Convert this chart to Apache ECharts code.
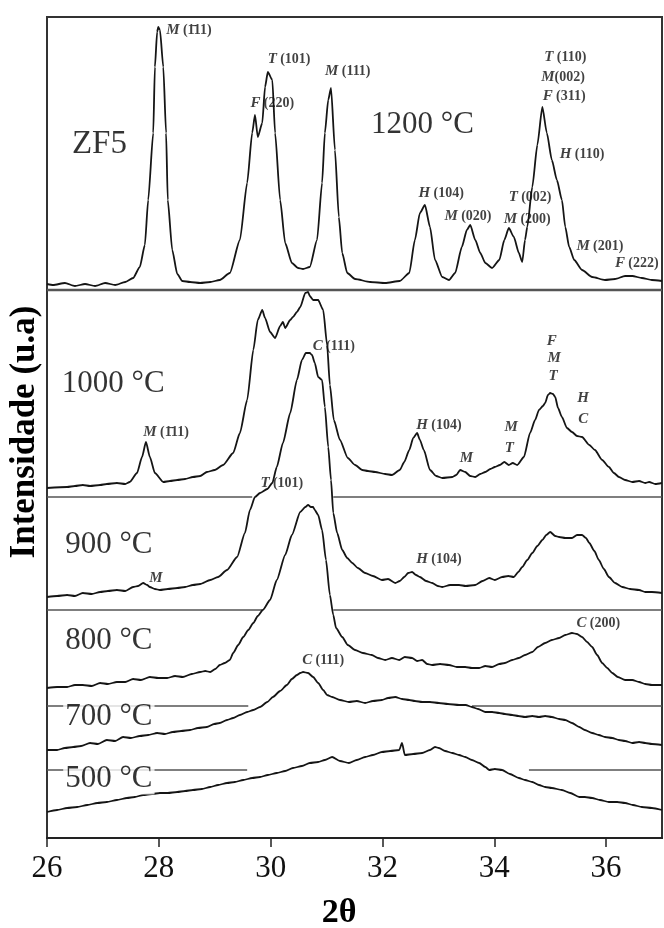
<!DOCTYPE html>
<html><head><meta charset="utf-8">
<script src="https://cdn.jsdelivr.net/npm/echarts@6/dist/echarts.min.js"></script>
<style>html,body{margin:0;padding:0;background:#fff}#c{width:664px;height:928px}</style>
</head><body><div id="c"></div>
<script>
// ---------- DATA (2θ in degrees, intensity in arbitrary units above each pattern's baseline) ----------
const xTicks = [26, 28, 30, 32, 34, 36];

const tt_1200 = [26.00,26.11,26.32,26.50,26.68,26.86,27.04,27.22,27.40,27.54,27.66,27.75,27.81,27.90,27.93,27.97,27.99,28.02,28.08,28.13,28.16,28.24,28.33,28.42,28.56,28.74,28.92,29.09,29.27,29.45,29.58,29.67,29.72,29.77,29.85,29.90,29.95,30.03,30.08,30.17,30.26,30.38,30.49,30.58,30.70,30.83,30.92,30.97,31.03,31.08,31.15,31.22,31.28,31.37,31.51,31.78,32.05,32.31,32.48,32.58,32.67,32.76,32.85,32.94,33.07,33.19,33.30,33.42,33.51,33.57,33.66,33.75,33.84,33.96,34.09,34.18,34.26,34.35,34.44,34.50,34.55,34.59,34.68,34.77,34.86,34.94,35.03,35.12,35.21,35.27,35.34,35.43,35.57,35.75,35.98,36.16,36.34,36.47,36.64,36.82,37.00];
const int_1200 = [1,0,2,-1,1,-1,2,0,3,7,18,40,85,152,218,253,258,255,218,152,85,35,11,4,3,2,3,5,12,45,102,152,170,148,162,198,213,205,152,85,42,22,17,16,18,45,102,152,185,197,135,68,32,12,6,3,2,4,12,45,72,80,58,25,8,5,12,38,55,60,45,32,22,17,25,45,57,48,32,23,45,58,98,140,178,152,125,105,85,58,38,25,15,8,5,6,9,9,7,5,4];

const tt_1000 = [26.00,26.36,26.50,26.64,26.77,26.95,27.07,27.25,27.40,27.48,27.61,27.70,27.77,27.84,27.93,28.08,28.20,28.33,28.47,28.61,28.74,28.86,29.00,29.15,29.33,29.45,29.58,29.69,29.77,29.85,29.90,29.99,30.08,30.17,30.22,30.26,30.35,30.40,30.47,30.53,30.62,30.67,30.70,30.76,30.85,30.94,31.01,31.06,31.13,31.24,31.38,31.51,31.64,31.74,31.87,32.05,32.17,32.31,32.39,32.48,32.55,32.62,32.67,32.74,32.85,32.96,33.07,33.25,33.32,33.39,33.48,33.57,33.66,33.75,33.84,33.93,34.01,34.10,34.18,34.26,34.33,34.41,34.53,34.64,34.73,34.80,34.87,34.91,34.96,35.00,35.05,35.09,35.14,35.21,35.30,35.39,35.48,35.57,35.70,35.80,35.93,36.05,36.14,36.23,36.34,36.47,36.59,36.70,36.77,36.88,37.00];
const int_1000 = [0,1,2,3,2,3,4,5,4,6,15,31,46,31,15,6,7,8,9,11,12,16,18,23,35,55,88,138,168,178,170,156,150,162,166,160,168,171,176,181,195,196,192,188,188,178,143,103,68,48,30,23,18,17,16,14,13,18,26,38,50,55,48,38,18,12,10,11,13,18,16,12,11,14,16,19,21,23,26,23,25,23,31,55,68,78,82,85,93,95,94,91,80,71,60,56,52,51,43,38,28,21,15,11,8,6,7,5,6,4,5];

const tt_900 = [26.00,26.18,26.36,26.50,26.64,26.80,26.95,27.09,27.25,27.40,27.54,27.63,27.72,27.79,27.84,27.93,28.02,28.16,28.33,28.47,28.61,28.74,28.92,29.06,29.22,29.40,29.54,29.63,29.72,29.81,29.94,30.03,30.11,30.22,30.35,30.47,30.56,30.63,30.70,30.74,30.79,30.85,30.92,30.97,31.03,31.08,31.12,31.19,31.28,31.37,31.46,31.56,31.69,31.83,31.99,32.10,32.23,32.31,32.39,32.46,32.53,32.60,32.67,32.78,32.89,32.99,33.07,33.21,33.37,33.49,33.66,33.79,33.91,34.01,34.14,34.25,34.35,34.43,34.50,34.59,34.68,34.77,34.86,34.93,35.00,35.09,35.16,35.27,35.39,35.48,35.57,35.64,35.70,35.79,35.87,35.96,36.05,36.16,36.29,36.43,36.59,36.70,36.82,37.00];
const int_900 = [0,1,2,1,4,3,5,6,7,6,10,11,14,12,10,8,7,8,9,10,12,13,17,20,27,40,64,87,100,104,108,114,130,154,184,217,237,244,244,242,234,220,217,190,150,117,84,64,47,39,34,29,24,21,17,18,14,16,20,24,25,22,20,16,14,11,10,12,12,11,12,16,19,17,20,21,20,25,30,37,44,51,57,62,65,61,60,59,59,62,62,59,54,46,37,28,20,14,10,8,7,5,5,4];

const tt_800 = [26.00,26.18,26.36,26.50,26.64,26.80,26.95,27.09,27.25,27.40,27.54,27.68,27.84,27.99,28.15,28.29,28.43,28.59,28.74,28.83,28.92,29.01,29.09,29.18,29.27,29.33,29.42,29.51,29.60,29.69,29.77,29.86,29.99,30.11,30.26,30.38,30.53,30.62,30.67,30.72,30.76,30.79,30.85,30.92,30.99,31.06,31.12,31.17,31.28,31.38,31.51,31.65,31.81,31.92,32.05,32.17,32.30,32.40,32.53,32.62,32.71,32.80,32.89,33.03,33.19,33.33,33.48,33.60,33.73,33.84,33.96,34.09,34.19,34.32,34.44,34.55,34.68,34.78,34.91,35.03,35.16,35.27,35.39,35.48,35.57,35.66,35.75,35.84,35.93,36.02,36.11,36.21,36.34,36.47,36.59,36.70,36.82,37.00];
const int_800 = [0,1,1,3,3,2,5,4,6,6,9,8,11,10,10,12,11,14,16,17,16,19,23,25,28,35,43,51,58,65,72,78,88,108,133,153,176,181,183,181,181,178,173,158,128,93,73,60,51,43,38,35,33,30,28,30,28,31,30,27,28,24,23,24,23,21,21,20,20,22,21,24,25,28,30,33,36,41,45,48,50,53,55,54,51,46,41,33,25,20,15,11,8,8,6,4,3,3];

const tt_700 = [26.00,26.18,26.32,26.47,26.61,26.77,26.91,27.07,27.22,27.36,27.50,27.66,27.81,27.97,28.11,28.25,28.40,28.56,28.70,28.86,28.99,29.09,29.22,29.33,29.45,29.58,29.69,29.81,29.94,30.04,30.17,30.29,30.38,30.47,30.53,30.58,30.67,30.76,30.85,30.94,31.01,31.10,31.24,31.40,31.54,31.69,31.83,31.99,32.10,32.23,32.35,32.48,32.58,32.71,32.85,33.01,33.17,33.37,33.49,33.60,33.71,33.84,33.96,34.09,34.19,34.32,34.43,34.55,34.68,34.80,34.91,35.03,35.16,35.27,35.39,35.52,35.62,35.75,35.87,35.98,36.11,36.23,36.34,36.47,36.59,36.70,36.82,37.00];
const int_700 = [0,0,2,3,4,7,6,10,9,13,12,14,15,17,16,18,19,20,22,23,26,27,30,32,35,38,40,43,48,53,59,65,71,75,77,78,77,73,67,60,55,53,50,48,49,47,49,50,52,53,51,50,49,48,48,47,46,45,45,43,41,38,38,37,36,35,34,33,34,33,34,33,31,30,27,23,20,17,15,13,12,10,9,7,8,7,6,5];

const tt_500 = [26.00,26.18,26.36,26.54,26.72,26.90,27.07,27.25,27.43,27.57,27.72,27.88,28.02,28.16,28.33,28.47,28.61,28.77,28.92,29.06,29.22,29.36,29.51,29.67,29.81,29.95,30.11,30.26,30.40,30.56,30.70,30.85,30.97,31.10,31.24,31.40,31.54,31.69,31.83,31.99,32.14,32.30,32.35,32.40,32.55,32.71,32.85,32.94,33.01,33.12,33.25,33.37,33.48,33.60,33.73,33.84,33.91,34.01,34.14,34.28,34.44,34.55,34.68,34.80,34.91,35.03,35.21,35.36,35.52,35.62,35.75,35.89,36.05,36.20,36.34,36.48,36.64,36.82,37.00];
const int_500 = [0,2,4,5,7,9,10,12,14,15,17,18,19,19,20,21,22,23,25,27,29,30,32,34,35,37,39,41,44,46,49,50,52,55,51,49,52,55,57,60,61,62,69,57,58,59,62,65,64,61,59,57,55,52,49,45,42,43,42,38,34,32,30,27,25,24,22,19,15,15,14,12,10,10,9,7,5,4,2];

const patternNames = ['1200 °C', '1000 °C', '900 °C', '800 °C', '700 °C', '500 °C'];
const patternX = [tt_1200, tt_1000, tt_900, tt_800, tt_700, tt_500];
const patternY = [int_1200, int_1000, int_900, int_800, int_700, int_500];

// peak annotations: text, 2θ, height (axis units)
const peakText = ['M (1\u030411)','T (101)','F (220)','M (111)','T (110)','M(002)','F (311)','H (110)','H (104)','T (002)','M (020)','M (200)','M (201)','F (222)',
                  'M (1\u030411)','C (111)','H (104)','M','M','T','F','M','T','H','C',
                  'M','T (101)','H (104)','C (200)','C (111)'];
const peakX = [28.54,30.33,30.03,31.38,35.27,35.23,35.25,35.57,33.05,34.64,33.53,34.59,35.89,36.55,
               28.13,31.13,33.01,33.50,34.30,34.27,35.03,35.07,35.05,35.59,35.59,
               27.95,30.20,33.01,35.86,30.94];
const peakY = [808,779,735,767,781,761,742,684,645,641,622,619,592,575,
               406,492,413,380,411,390,497,480,462,440,419,
               260,355,279,215,178];

// sample / temperature labels
const sampleText = ['ZF5','1200 °C','1000 °C','900 °C','800 °C','700 °C','500 °C'];
const sampleX = [26.41,31.76,26.23,26.29,26.29,26.29,26.29];
const sampleY = [694,713,454,293,197,121,59];

// ---------- LAYOUT ----------
const patternOffset = [553, 350, 241, 150, 88, 26];
const separators = [
  [548, 26, 37, 2.5],
  [341, 26, 29.67, 1.5], [341, 31.12, 37, 1.5],
  [228, 26, 29.85, 1.5], [228, 31.12, 37, 1.5],
  [132, 26, 29.6, 1.5], [132, 33.6, 37, 1.5],
  [68, 26, 29.58, 1.5], [68, 34.62, 37, 1.5]
];
const SERIF = '"Liberation Serif","Times New Roman",serif';

const series = [];
separators.forEach(s => {
  series.push({type:'line', silent:true, showSymbol:false, z:1,
    data:[[s[1], s[0]], [s[2], s[0]]],
    lineStyle:{color:'#555', width:s[3]}});
});
patternX.forEach((xs, k) => {
  series.push({type:'line', name:patternNames[k], showSymbol:false, z:3,
    smooth:0.2, smoothMonotone:'x',
    data: xs.map((x, i) => [x, patternY[k][i] + patternOffset[k]]),
    lineStyle:{color:'#151515', width:1.8}});
});
series.push({type:'scatter', z:5, symbolSize:0, silent:true, clip:false,
  data: peakText.map((t, i) => {
    const sp = t.indexOf(' ');
    let f;
    if (/^[A-Z]\(/.test(t)) f = '{i|' + t[0] + '}{b|' + t.slice(1) + '}';
    else if (sp < 0) f = '{i|' + t + '}';
    else f = '{i|' + t.slice(0, sp) + '} {b|' + t.slice(sp + 1) + '}';
    return {value:[peakX[i], peakY[i]], label:{formatter:f}};
  }),
  label:{show:true, position:'inside', align:'center', verticalAlign:'middle',
    rich:{
      i:{fontFamily:SERIF, fontStyle:'italic', fontWeight:'bold', fontSize:15, color:'#111'},
      b:{fontFamily:SERIF, fontWeight:'bold', fontSize:14, color:'#111'}
    }}
});
series.push({type:'scatter', z:6, symbolSize:0, silent:true, clip:false,
  data: sampleText.map((t, i) => ({value:[sampleX[i], sampleY[i]], label:{formatter:t,
     fontSize: i === 0 ? 33 : 31}})),
  label:{show:true, position:'right', distance:0, verticalAlign:'middle',
    fontFamily:SERIF, color:'#000', backgroundColor:'#fff', padding:[0,2,0,2]}
});

const chart = echarts.init(document.getElementById('c'), null, {renderer:'canvas'});
chart.setOption({
  animation:false,
  backgroundColor:'#fff',
  grid:{left:47, right:2, top:17, bottom:90, show:true, borderColor:'#333', borderWidth:2, backgroundColor:'transparent'},
  xAxis:{type:'value', min:26, max:37, interval:2,
    axisLine:{lineStyle:{color:'#222', width:2}},
    axisTick:{show:true, inside:false, length:9, lineStyle:{color:'#222', width:1.5}},
    axisLabel:{fontFamily:SERIF, fontSize:31, color:'#111', margin:15, showMaxLabel:false,
      formatter: v => xTicks.indexOf(v) >= 0 ? String(v) : ''},
    splitLine:{show:false}},
  yAxis:{type:'value', min:0, max:821, show:false},
  series: series,
  graphic:[
    {type:'text', x:25, y:432, rotation:Math.PI/2, z:10,
      style:{text:'Intensidade (u.a)', fill:'#000', fontFamily:SERIF, fontWeight:'bold', fontSize:35, align:'center', verticalAlign:'middle'}},
    {type:'text', x:339, y:913, z:10,
      style:{text:'2θ', fill:'#000', fontFamily:SERIF, fontWeight:'bold', fontSize:34, align:'center', verticalAlign:'middle'}}
  ]
});
</script></body></html>
